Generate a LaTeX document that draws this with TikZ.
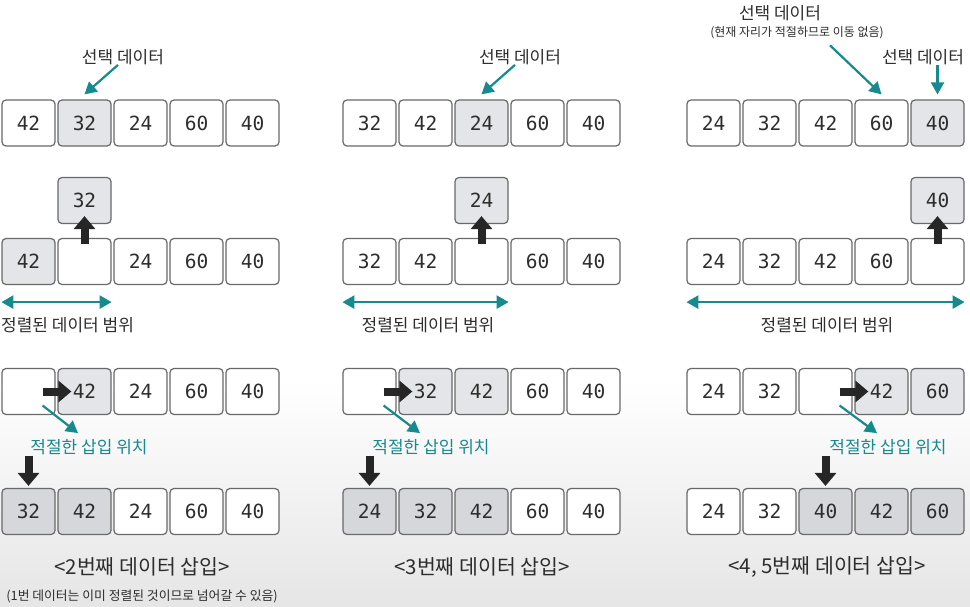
\documentclass[tikz,border=0pt]{standalone}
\usepackage{fontspec}
\setmainfont{Noto Sans CJK KR}
\newfontfamily\numfont{DejaVu Sans Mono}
\usetikzlibrary{arrows.meta}
\definecolor{tealline}{RGB}{22,138,140}
\definecolor{selgray}{RGB}{228,229,232}
\definecolor{donegray}{RGB}{214,215,219}
\definecolor{edgegray}{RGB}{105,105,105}
\definecolor{inkgray}{RGB}{45,45,45}

\tikzset{
	numbox/.style={draw=edgegray, line width=1.2bp, rounded corners=4bp,
		minimum width=53bp, minimum height=46bp, inner sep=0pt,
		font=\numfont\fontsize{19.5bp}{22bp}\selectfont, text=inkgray},
	txt/.style={inner sep=0pt, text=inkgray, font=\fontsize{17bp}{19bp}\selectfont},
	instxt/.style={inner sep=0pt, text=tealline, font=\fontsize{17bp}{19bp}\selectfont},
	titletxt/.style={inner sep=0pt, text=inkgray, font=\fontsize{20.5bp}{23bp}\selectfont},
	notetxt/.style={inner sep=0pt, text=inkgray, font=\fontsize{12bp}{14bp}\selectfont},
	pointer/.style={draw=tealline, line width=2.2bp, -{Triangle[length=12bp,width=13bp]}},
	spanline/.style={draw=tealline, line width=2.5bp,
		{Triangle[length=12bp,width=13bp]}-{Triangle[length=12bp,width=13bp]}},
	bigarrow/.style={draw=black!85, line width=8bp, -{Triangle[length=13bp,width=21bp]}}
}

\begin{document}
\begin{tikzpicture}[x=1bp,y=-1bp]
	\useasboundingbox (0,0) rectangle (970,607);
	\fill[white] (0,0) rectangle (970,607);
	\shade[top color=white, bottom color=black!10] (0,380) rectangle (970,607);

	% 2nd element
	\node[txt] (sa) at (123,57) {선택 데이터};
	\foreach \val/\fc [count=\cnt] in {42/white,32/selgray,24/white,60/white,40/white}
		\node[numbox, fill=\fc] (a\cnt) at ({28.5+56*(\cnt-1)},123) {\val};
	\draw[pointer] ([xshift=-5bp]sa.south) -- ([yshift=5bp]a2.north);
	\node[numbox, fill=selgray] (ua) at (84.5,200.5) {32};
	\foreach \val/\fc [count=\cnt] in {42/selgray,/white,24/white,60/white,40/white}
		\node[numbox, fill=\fc] (b\cnt) at ({28.5+56*(\cnt-1)},261.5) {\val};
	\draw[bigarrow] ([yshift=-6bp]b2.north) -- ([yshift=8bp]ua.south);
	\draw[spanline] ([yshift=-17bp]b1.south west) -- ([yshift=-17bp]b2.south east);
	\node[txt, anchor=west] (ra) at (1,325) {정렬된 데이터 범위};
	\foreach \val/\fc [count=\cnt] in {/white,42/selgray,24/white,60/white,40/white}
		\node[numbox, fill=\fc] (c\cnt) at ({28.5+56*(\cnt-1)},391.5) {\val};
	\draw[bigarrow] ([xshift=-13bp]c1.east) -- ([xshift=14bp]c2.west);
	\node[instxt] (ia) at (89,447) {적절한 삽입 위치};
	\draw[pointer] ([xshift=-13bp,yshift=-14bp]c1.east) -- ([xshift=-11bp,yshift=6bp]ia.north);
	\foreach \val/\fc [count=\cnt] in {32/donegray,42/donegray,24/white,60/white,40/white}
		\node[numbox, fill=\fc] (d\cnt) at ({28.5+56*(\cnt-1)},511.5) {\val};
	\draw[bigarrow] ([yshift=32bp]d1.north) -- ([yshift=2bp]d1.north);
	\node[titletxt] (ta) at (142,567) {<2번째 데이터 삽입>};
	\node[notetxt, font=\fontsize{12.8bp}{14bp}\selectfont] (na) at (142,596) {(1번 데이터는 이미 정렬된 것이므로 넘어갈 수 있음)};

	% 3rd element
	\node[txt] (sb) at (520,57) {선택 데이터};
	\foreach \val/\fc [count=\cnt] in {32/white,42/white,24/selgray,60/white,40/white}
		\node[numbox, fill=\fc] (e\cnt) at ({369.5+56*(\cnt-1)},123) {\val};
	\draw[pointer] ([xshift=-5bp]sb.south) -- ([yshift=5bp]e3.north);
	\node[numbox, fill=selgray] (ub) at (481.5,200.5) {24};
	\foreach \val/\fc [count=\cnt] in {32/white,42/white,/white,60/white,40/white}
		\node[numbox, fill=\fc] (f\cnt) at ({369.5+56*(\cnt-1)},261.5) {\val};
	\draw[bigarrow] ([yshift=-6bp]f3.north) -- ([yshift=8bp]ub.south);
	\draw[spanline] ([yshift=-17bp]f1.south west) -- ([yshift=-17bp]f3.south east);
	\node[txt] (rb) at (428,325) {정렬된 데이터 범위};
	\foreach \val/\fc [count=\cnt] in {/white,32/selgray,42/selgray,60/white,40/white}
		\node[numbox, fill=\fc] (g\cnt) at ({369.5+56*(\cnt-1)},391.5) {\val};
	\draw[bigarrow] ([xshift=-13bp]g1.east) -- ([xshift=14bp]g2.west);
	\node[instxt] (ib) at (431,447) {적절한 삽입 위치};
	\draw[pointer] ([xshift=-13bp,yshift=-14bp]g1.east) -- ([xshift=-11bp,yshift=6bp]ib.north);
	\foreach \val/\fc [count=\cnt] in {24/donegray,32/donegray,42/donegray,60/white,40/white}
		\node[numbox, fill=\fc] (h\cnt) at ({369.5+56*(\cnt-1)},511.5) {\val};
	\draw[bigarrow] ([yshift=32bp]h1.north) -- ([yshift=2bp]h1.north);
	\node[titletxt] (tb) at (482,567) {<3번째 데이터 삽입>};

	% 4th and 5th element
	\node[txt] (sc) at (780,13) {선택 데이터};
	\node[notetxt] (nc) at (797,33) {(현재 자리가 적절하므로 이동 없음)};
	\node[txt] (sd) at (923,57) {선택 데이터};
	\foreach \val/\fc [count=\cnt] in {24/white,32/white,42/white,60/white,40/selgray}
		\node[numbox, fill=\fc] (i\cnt) at ({713.5+56*(\cnt-1)},123) {\val};
	\draw[pointer] ([xshift=33bp,yshift=-6bp]nc.south) -- ([yshift=5bp]i4.north);
	\draw[pointer] (sd.south -| i5.north) -- ([yshift=5bp]i5.north);
	\node[numbox, fill=selgray] (uc) at (937.5,200.5) {40};
	\foreach \val/\fc [count=\cnt] in {24/white,32/white,42/white,60/white,/white}
		\node[numbox, fill=\fc] (j\cnt) at ({713.5+56*(\cnt-1)},261.5) {\val};
	\draw[bigarrow] ([yshift=-6bp]j5.north) -- ([yshift=8bp]uc.south);
	\draw[spanline] ([yshift=-17bp]j1.south west) -- ([yshift=-17bp]j5.south east);
	\node[txt] (rc) at (827,325) {정렬된 데이터 범위};
	\foreach \val/\fc [count=\cnt] in {24/white,32/white,/white,42/selgray,60/selgray}
		\node[numbox, fill=\fc] (k\cnt) at ({713.5+56*(\cnt-1)},391.5) {\val};
	\draw[bigarrow] ([xshift=-13bp]k3.east) -- ([xshift=14bp]k4.west);
	\node[instxt] (ic) at (888,447) {적절한 삽입 위치};
	\draw[pointer] ([xshift=-13bp,yshift=-14bp]k3.east) -- ([xshift=-11bp,yshift=6bp]ic.north);
	\foreach \val/\fc [count=\cnt] in {24/white,32/white,40/donegray,42/donegray,60/donegray}
		\node[numbox, fill=\fc] (l\cnt) at ({713.5+56*(\cnt-1)},511.5) {\val};
	\draw[bigarrow] ([yshift=32bp]l3.north) -- ([yshift=2bp]l3.north);
	\node[titletxt] (tc) at (827,567) {<4, 5번째 데이터 삽입>};
\end{tikzpicture}
\end{document}
